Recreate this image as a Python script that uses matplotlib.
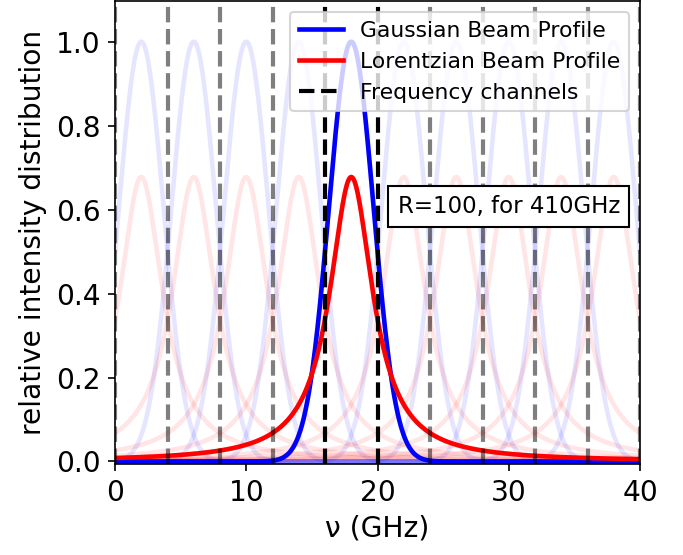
import numpy as np
import matplotlib
matplotlib.use("Agg")
import matplotlib.pyplot as plt

# channel setup (GHz)
channel_edges = [0, 4, 8, 12, 16, 20, 24, 28, 32, 36, 40]
channel_centers = [2, 6, 10, 14, 18, 22, 26, 30, 34, 38]
highlight_center = 18
highlight_edges = [16, 20]
fwhm = 4.0  # same FWHM for both profiles

nu = np.linspace(0, 40, 2000)


def gauss(x, c):
    sigma = fwhm / (2 * np.sqrt(2 * np.log(2)))
    return np.exp(-(x - c) ** 2 / (2 * sigma ** 2))


def lorentz(x, c):
    # same area as the gaussian of peak 1
    sigma = fwhm / (2 * np.sqrt(2 * np.log(2)))
    gamma = fwhm / 2
    area = sigma * np.sqrt(2 * np.pi)
    return area * (gamma / np.pi) / ((x - c) ** 2 + gamma ** 2)


fig = plt.figure(figsize=(683 / 150, 555 / 150), dpi=150)
ax = fig.add_axes([115 / 683, 91 / 555, 525 / 683, 463 / 555])

for c in channel_centers:
    ax.plot(nu, gauss(nu, c), color='blue', alpha=0.1, lw=2.2)
    ax.plot(nu, lorentz(nu, c), color='red', alpha=0.1, lw=2.2)

ax.plot(nu, gauss(nu, highlight_center), color='blue', lw=2.2, label='Gaussian Beam Profile')
ax.plot(nu, lorentz(nu, highlight_center), color='red', lw=2.2, label='Lorentzian Beam Profile')

for e in channel_edges:
    if e in highlight_edges:
        continue
    ax.axvline(e, color='k', ls='--', lw=2, alpha=0.5)
for i, e in enumerate(highlight_edges):
    ax.axvline(e, color='k', ls='--', lw=2,
               label='Frequency channels' if i == 0 else None)

ax.text(30, 0.607, 'R=100, for 410GHz', ha='center', va='center', fontsize=11,
        bbox=dict(facecolor='white', edgecolor='black', boxstyle='square,pad=0.4'))

ax.set_xlim(0, 40)
ax.set_ylim(-0.006, 1.097)
ax.set_xticks([0, 10, 20, 30, 40])
ax.set_yticks([0.0, 0.2, 0.4, 0.6, 0.8, 1.0])
ax.tick_params(labelsize=13.5)
ax.set_xlabel('ν (GHz)', fontsize=13.5)
ax.set_ylabel('relative intensity distribution', fontsize=13.5)
ax.legend(loc='upper right', fontsize=10.5)

fig.savefig('out.png', dpi=150)
